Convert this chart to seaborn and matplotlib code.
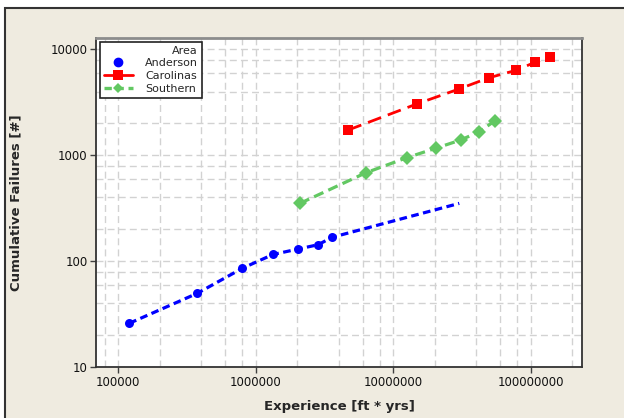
import numpy as np
import pandas as pd
import matplotlib
matplotlib.use('Agg')
import matplotlib.pyplot as plt
import seaborn as sns
from matplotlib.ticker import LogLocator, NullFormatter, FuncFormatter
from matplotlib.lines import Line2D
from matplotlib.patches import Rectangle

# values
anderson_x = [120200, 376000, 798000, 1334000, 2036000, 2849000, 3567000]
anderson_y = [26.0, 49.9, 85.9, 116, 130.6, 143.5, 168]
# dashed line for Anderson runs on past the last point
anderson_line_x = anderson_x + [30200000]
anderson_line_y = anderson_y + [352]

carolinas_x = [4710000, 14790000, 30000000, 49700000, 78000000, 107400000, 138000000]
carolinas_y = [1734, 3048, 4220, 5395, 6337, 7540, 8410]

southern_x = [2094000, 6330000, 12530000, 20300000, 30900000, 42200000, 54900000]
southern_y = [352, 685, 949, 1164, 1394, 1670, 2118]

x_ticks = [100000, 1000000, 10000000, 100000000]
y_ticks = [10, 100, 1000, 10000]

blue = '#0000FF'
red = '#FF0000'
green = '#62C862'

sns.set_style('white')
plt.rcParams['font.family'] = ['DejaVu Sans']

fig = plt.figure(figsize=(6.24, 4.18), dpi=100, facecolor='white')
fig.patches.append(Rectangle((5/624, -0.1), 1.2, 1.1 - 8/418, transform=fig.transFigure,
                             facecolor='#EFEBE0', edgecolor='#333333', lw=1.5, zorder=-10))
ax = fig.add_axes([96/624, 1 - 367.3/418, (582.3 - 96)/624, (367.3 - 38)/418])
ax.set_facecolor('white')

ax.set_xscale('log')
ax.set_yscale('log')

sns.lineplot(x=anderson_line_x, y=anderson_line_y, ax=ax, color=blue, lw=2.3,
             linestyle=(0, (2.4, 1.4)), legend=False, zorder=3)
sns.scatterplot(x=anderson_x, y=anderson_y, ax=ax, color=blue, marker='o', s=42,
                edgecolor=blue, linewidth=0, legend=False, zorder=4)
sns.lineplot(x=carolinas_x, y=carolinas_y, ax=ax, color=red, lw=2.0,
             linestyle=(0, (5, 2.6)), marker='s', markersize=7.5, markeredgewidth=0,
             legend=False, zorder=3)
sns.lineplot(x=southern_x, y=southern_y, ax=ax, color=green, lw=2.3,
             linestyle=(0, (3.2, 1.7)), marker='D', markersize=7, markeredgewidth=0,
             legend=False, zorder=3)

ax.set_xlim(68900, 2.37e8)
ax.set_ylim(10, 12790)

ax.xaxis.set_minor_locator(LogLocator(base=10, subs=[2, 4, 6, 8], numticks=20))
ax.yaxis.set_minor_locator(LogLocator(base=10, subs=[2, 4, 6, 8], numticks=20))
ax.xaxis.set_minor_formatter(NullFormatter())
ax.yaxis.set_minor_formatter(NullFormatter())
ax.set_xticks(x_ticks)
ax.set_yticks(y_ticks)
fmt = FuncFormatter(lambda v, p: '%d' % int(round(v)))
ax.xaxis.set_major_formatter(fmt)
ax.yaxis.set_major_formatter(fmt)
ax.tick_params(which='major', length=4, width=1, color='#404040', labelsize=8.5,
               labelcolor='#111111', direction='out', pad=2,
               bottom=True, left=True)
ax.tick_params(which='minor', length=0)

ax.grid(which='both', color='#D2D2D2', linestyle=(0, (5, 3)), lw=1)
ax.set_axisbelow(True)

for s in ['left', 'bottom', 'right']:
    ax.spines[s].set_color('#333333')
    ax.spines[s].set_linewidth(1.3)
ax.spines['top'].set_color('#8C8C8C')
ax.spines['top'].set_linewidth(2)

ax.set_xlabel('Experience [ft * yrs]', fontsize=9.5, fontweight='bold', labelpad=8)
ax.set_ylabel('Cumulative Failures [#]', fontsize=9.5, fontweight='bold', labelpad=20)

handles = [
    Line2D([], [], color=blue, marker='o', linestyle='none', markersize=6),
    Line2D([], [], color=red, marker='s', lw=2, markersize=6.5, markeredgewidth=0),
    Line2D([], [], color=green, marker='D', lw=2.4, linestyle=(0, (2.2, 1.4)),
           markersize=5.5, markeredgewidth=0),
]
leg = ax.legend(handles, ['Anderson', 'Carolinas', 'Southern'], title='Area',
                loc='upper left', bbox_to_anchor=(0.008, 0.989), fontsize=8,
                title_fontsize=8, frameon=True, fancybox=False, framealpha=1,
                edgecolor='#222222', borderpad=0.35, labelspacing=0.25,
                handlelength=2.6, handletextpad=1.1, alignment='right',
                borderaxespad=0)
leg.get_frame().set_linewidth(1.2)

plt.savefig('out.png', dpi=100, facecolor=fig.get_facecolor())
